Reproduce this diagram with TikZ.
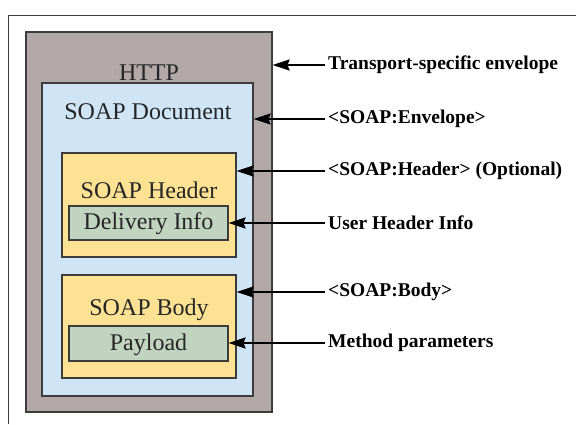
\documentclass[tikz,border=0pt]{standalone}
\usepackage{fontspec}
\setmainfont{Liberation Serif}
\usetikzlibrary{arrows.meta}
\definecolor{httpgray}{RGB}{178,168,168}
\definecolor{docblue}{RGB}{207,229,246}
\definecolor{partyellow}{RGB}{252,226,146}
\definecolor{infogreen}{RGB}{192,212,192}
\definecolor{edge}{RGB}{60,60,60}
\begin{document}
\begin{tikzpicture}[x=1pt,y=-1pt,
  layer/.style={draw=edge,line width=1.1pt,rectangle,inner sep=0pt},
  boxtext/.style={font=\fontsize{24}{26}\selectfont,text=black!85},
  callout/.style={font=\fontsize{19.5}{22}\selectfont\bfseries,anchor=west,inner xsep=3pt,inner ysep=0pt},
  pointer/.style={line width=1.9pt,-{Stealth[length=17pt,width=11pt,inset=2pt]}}]
\useasboundingbox (0,0) rectangle (576,424);
\fill[white] (0,0) rectangle (576,424);
% page frame
\draw[edge,line width=0.8pt] (8,424) -- (8,15) -- (576,15);
% nested envelopes
\node[layer,fill=httpgray,minimum width=246pt,minimum height=380pt] (http) at (149,222) {};
\node[layer,fill=docblue,minimum width=211pt,minimum height=313pt] (doc) at (147.5,239.5) {};
\node[layer,fill=partyellow,minimum width=174pt,minimum height=104pt] (hdr) at (149,205) {};
\node[layer,fill=infogreen,minimum width=159pt,minimum height=34pt] (info) at (148.5,223) {};
\node[layer,fill=partyellow,minimum width=174pt,minimum height=103pt] (body) at (149,326.5) {};
\node[layer,fill=infogreen,minimum width=159pt,minimum height=35pt] (pay) at (148.5,343.5) {};
% box titles
\node[boxtext] (thttp) at (149,73) {HTTP};
\node[boxtext] (tdoc) at (148,112) {SOAP Document};
\node[boxtext] (thdr) at (149,190) {SOAP Header};
\node[boxtext] (tinfo) at (148.5,224) {Delivery Info};
\node[boxtext] (tbody) at (149,310) {SOAP Body};
\node[boxtext] (tpay) at (148.5,345) {Payload};
% callouts
\node[callout] (l1) at (325,65) {Transport-specific envelope};
\node[callout] (l2) at (325,119) {<SOAP:Envelope>};
\node[callout] (l3) at (325,171) {<SOAP:Header> (Optional)};
\node[callout] (l4) at (325,223) {User Header Info};
\node[callout] (l5) at (325,292) {<SOAP:Body>};
\node[callout] (l6) at (325,343) {Method parameters};
\draw[pointer] (l1.west) -- (l1.west -| http.east);
\draw[pointer] (l2.west) -- (l2.west -| doc.east);
\draw[pointer] (l3.west) -- (l3.west -| hdr.east);
\draw[pointer] (l4.west) -- (l4.west -| info.east);
\draw[pointer] (l5.west) -- (l5.west -| body.east);
\draw[pointer] (l6.west) -- (l6.west -| pay.east);
\end{tikzpicture}
\end{document}
